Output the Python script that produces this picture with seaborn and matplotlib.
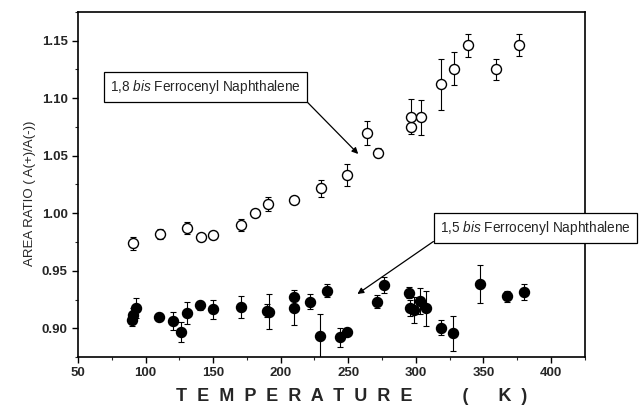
import numpy as np
import pandas as pd
import matplotlib
matplotlib.use("Agg")
import matplotlib.pyplot as plt
import seaborn as sns
from matplotlib.ticker import MultipleLocator

# ---- data ----
open_T = [91, 110.8, 130.6, 141, 150.2, 170.6, 180.9, 190.4, 209.8, 229.9, 249,
          264.2, 272, 296.1, 296.6, 303.9, 318.6, 328.4, 338.7, 359, 376.5]
open_R = [0.974, 0.982, 0.987, 0.979, 0.981, 0.990, 1.000, 1.008, 1.0115, 1.0217, 1.033,
          1.0695, 1.0527, 1.0747, 1.084, 1.0834, 1.112, 1.1254, 1.146, 1.125, 1.146]
open_E = [0.0057, 0.0046, 0.005, 0.002, 0.003, 0.0054, 0.003, 0.006, 0.003, 0.0074, 0.0094,
          0.0106, 0.004, 0.003, 0.015, 0.015, 0.022, 0.0143, 0.010, 0.0094, 0.0097]

fill_T = [90.2, 90.4, 92.6, 110.3, 120.6, 126.5, 130.4, 140.4, 150.2, 170.6, 190.2, 191.7,
          209.8, 209.8, 221.8, 229.4, 234, 244.1, 249, 271.5, 276.5, 294.9, 295.6, 298.5,
          303.2, 307.9, 318.9, 327.4, 347.6, 367.6, 380.4]
fill_R = [0.9072, 0.9115, 0.9173, 0.910, 0.9066, 0.897, 0.9135, 0.920, 0.9167, 0.9187, 0.9153,
          0.9144, 0.9272, 0.9179, 0.9231, 0.8933, 0.9327, 0.8921, 0.897, 0.9231, 0.9376,
          0.9309, 0.9173, 0.9159, 0.9237, 0.9173, 0.9005, 0.8956, 0.9385, 0.928, 0.9315]
fill_E = [0.005, 0.006, 0.0087, 0.003, 0.0077, 0.0087, 0.0097, 0.004, 0.0083, 0.0094, 0.0057,
          0.0153, 0.003, 0.0153, 0.0066, 0.019, 0.0058, 0.0085, 0.003, 0.0054, 0.0072, 0.0046,
          0.007, 0.0116, 0.0114, 0.0154, 0.0065, 0.015, 0.0167, 0.0048, 0.0072]

label_18 = "1,8 $\\it{bis}$ Ferrocenyl Naphthalene"
label_15 = "1,5 $\\it{bis}$ Ferrocenyl Naphthalene"
x_ticks = [50, 100, 150, 200, 250, 300, 350, 400]
y_ticks = [0.90, 0.95, 1.00, 1.05, 1.10, 1.15]

sns.set_style("ticks")
plt.rcParams['font.family'] = ['Liberation Sans', 'DejaVu Sans']
plt.rcParams['mathtext.fontset'] = 'custom'
plt.rcParams['mathtext.rm'] = 'Liberation Sans'
plt.rcParams['mathtext.it'] = 'Liberation Sans:italic'

df_open = pd.DataFrame({"T": open_T, "R": open_R, "E": open_E})
df_fill = pd.DataFrame({"T": fill_T, "R": fill_R, "E": fill_E})

fig = plt.figure(figsize=(6.39, 4.09), dpi=100)
ax = fig.add_axes([0.122, 0.127, 0.793, 0.844])

for d in (df_open, df_fill):
    ax.errorbar(d["T"], d["R"], yerr=d["E"], fmt="none", ecolor="black",
                elinewidth=0.8, capsize=2.5, capthick=0.8, zorder=2)

sns.scatterplot(data=df_open, x="T", y="R", ax=ax, marker="o", s=52,
                facecolor="white", edgecolor="black", linewidth=1.0, zorder=3)
sns.scatterplot(data=df_fill, x="T", y="R", ax=ax, marker="o", s=52,
                color="black", edgecolor="black", linewidth=1.0, zorder=3)

ax.set_xlim(50, 425)
ax.set_ylim(0.875, 1.175)
ax.set_xticks(x_ticks)
ax.set_yticks(y_ticks)
ax.set_yticklabels([f"{v:.2f}" for v in y_ticks])
ax.xaxis.set_minor_locator(MultipleLocator(25))
ax.yaxis.set_minor_locator(MultipleLocator(0.025))
ax.tick_params(which="major", direction="out", length=4, width=1, labelsize=9.5,
               color="black")
ax.tick_params(which="minor", direction="out", length=2.5, width=0.8)
for lab in ax.get_xticklabels() + ax.get_yticklabels():
    lab.set_fontweight("bold")
for sp in ax.spines.values():
    sp.set_visible(True)
    sp.set_linewidth(1.2)
    sp.set_color("black")

ax.set_xlabel("T  E  M  P  E  R  A  T  U  R  E          (      K  )",
              fontsize=13, fontweight="bold", labelpad=6)
ax.xaxis.label.set_x(0.54)
ax.set_ylabel("AREA RATIO ( A(+)/A(-))", fontsize=9.5, labelpad=4)
ax.yaxis.label.set_y(0.475)

bbox = dict(boxstyle="square,pad=0.45", fc="white", ec="black", lw=0.9)
ax.annotate(label_18, xy=(257.4, 1.0515), xytext=(144.6, 1.1098),
            ha="center", va="center", fontsize=9.8, bbox=bbox,
            arrowprops=dict(arrowstyle="-|>", color="black", lw=0.9,
                            mutation_scale=9, relpos=(1, 0), shrinkA=0, shrinkB=0))
ax.annotate(label_15, xy=(256.8, 0.9298), xytext=(388.5, 0.9872),
            ha="center", va="center", fontsize=9.8, bbox=bbox, annotation_clip=False,
            arrowprops=dict(arrowstyle="-|>", color="black", lw=0.9,
                            mutation_scale=9, relpos=(0, 0), shrinkA=0, shrinkB=0))

fig.savefig("out.png", dpi=100)
